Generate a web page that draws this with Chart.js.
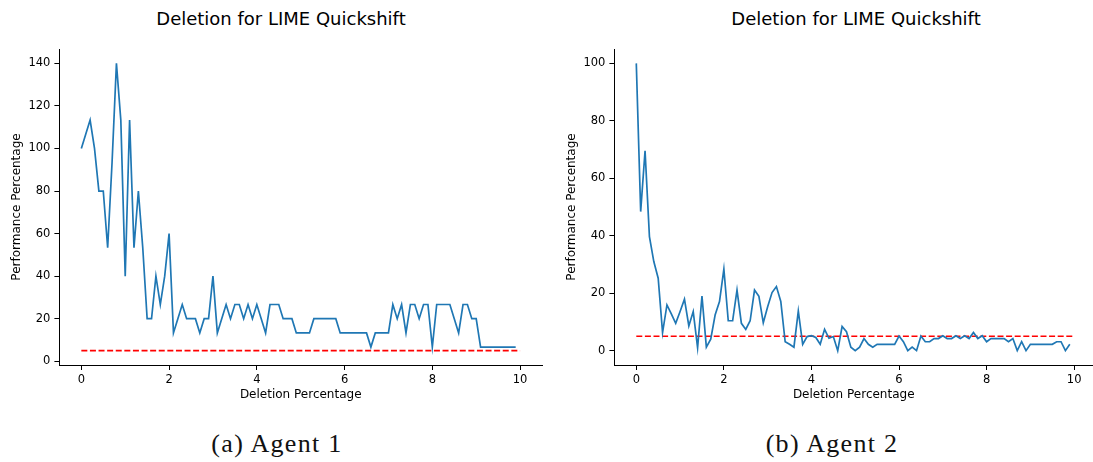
<!DOCTYPE html>
<html>
<head>
<meta charset="utf-8">
<script src="https://cdn.jsdelivr.net/npm/chart.js@4.4.1/dist/chart.umd.min.js"></script>
<style>
  html, body { margin: 0; padding: 0; background: #fff; }
  body { width: 1093px; height: 462px; position: relative; overflow: hidden; font-family: "DejaVu Sans", sans-serif; }
  .wrap { position: absolute; top: 0; }
  .title { position: absolute; top: 8px; transform: translateX(-50%); font-family: "DejaVu Sans", sans-serif; font-size: 18px; color: #000; white-space: nowrap; line-height: 22px; }
  .caption { position: absolute; top: 428px; transform: translateX(-50%); font-family: "Liberation Serif", "DejaVu Serif", serif; font-size: 26px; letter-spacing: 1.3px; color: #111; white-space: nowrap; line-height: 32px; }
</style>
</head>
<body>
<div class="title" style="left:281px">Deletion for LIME Quickshift</div>
<div class="title" style="left:856px">Deletion for LIME Quickshift</div>
<div class="wrap" style="left:0px"><canvas id="c1" width="560" height="420"></canvas></div>
<div class="wrap" style="left:555px"><canvas id="c2" width="538" height="420"></canvas></div>
<div class="caption" style="left:277px">(a) Agent 1</div>
<div class="caption" style="left:832px">(b) Agent 2</div>
<script>
// ---- data ----
const deletionPct = [0,0.1,0.2,0.3,0.4,0.5,0.6,0.7,0.8,0.9,1,1.1,1.2,1.3,1.4,1.5,1.6,1.7,1.8,1.9,
  2,2.1,2.2,2.3,2.4,2.5,2.6,2.7,2.8,2.9,3,3.1,3.2,3.3,3.4,3.5,3.6,3.7,3.8,3.9,
  4,4.1,4.2,4.3,4.4,4.5,4.6,4.7,4.8,4.9,5,5.1,5.2,5.3,5.4,5.5,5.6,5.7,5.8,5.9,
  6,6.1,6.2,6.3,6.4,6.5,6.6,6.7,6.8,6.9,7,7.1,7.2,7.3,7.4,7.5,7.6,7.7,7.8,7.9,
  8,8.1,8.2,8.3,8.4,8.5,8.6,8.7,8.8,8.9,9,9.1,9.2,9.3,9.4,9.5,9.6,9.7,9.8,9.9];

const agent1Perf = [100,106.67,113.33,100,80,80,53.33,93.33,140,113.33,
  40,113.33,53.33,80,53.33,20,20,40,26.67,40,
  60,13.33,20,26.67,20,20,20,13.33,20,20,
  40,13.33,20,26.67,20,26.67,26.67,20,26.67,20,
  26.67,20,13.33,26.67,26.67,26.67,20,20,20,13.33,
  13.33,13.33,13.33,20,20,20,20,20,20,13.33,
  13.33,13.33,13.33,13.33,13.33,13.33,6.67,13.33,13.33,13.33,
  13.33,26.67,20,26.67,13.33,26.67,26.67,20,26.67,26.67,
  6.67,26.67,26.67,26.67,26.67,20,13.33,26.67,26.67,20,
  20,6.67,6.67,6.67,6.67,6.67,6.67,6.67,6.67,6.67];

const agent2Perf = [100,48.4,69.6,39.7,31.0,25.2,6.3,15.9,12.8,9.5,
  13.6,17.9,8.6,13.6,1.0,19.0,1.2,4.0,12.4,17.1,
  28.4,10.4,10.4,21.1,9.5,7.4,10.4,21.1,18.9,9.7,
  15.3,20.2,22.3,17.1,3.1,2.2,1.2,13.8,2.2,4.9,
  5.2,4.6,2.2,7.4,4.3,4.9,0,8.4,6.6,1.2,
  0,1.2,4.2,2.2,1.2,2.2,2.2,2.2,2.2,2.2,
  5.1,3.1,0,1.2,0,5.1,3.1,3.1,4.2,4.2,
  5.2,4.2,4.2,5.2,4.2,5.2,4.2,6.3,4.2,5.2,
  3.1,4.2,4.2,4.2,4.2,3.1,4.2,0,3.1,0,
  2.2,2.2,2.2,2.2,2.2,2.2,3.1,3.1,0,2.2];

const thresholdX = [0, 10];
const thresholdY = 5;

const xTicks = [0, 2, 4, 6, 8, 10];
const yTicks1 = [0, 20, 40, 60, 80, 100, 120, 140];
const yTicks2 = [0, 20, 40, 60, 80, 100];

const chartTitle = 'Deletion for LIME Quickshift';
const xLabel = 'Deletion Percentage';
const yLabel = 'Performance Percentage';

// ---- helpers ----
function pts(xs, ys) { return xs.map((x, i) => ({ x: x, y: ys[i] })); }
function flat(xs, v) { return xs.map(x => ({ x: x, y: v })); }

const tickFont = { family: 'DejaVu Sans', size: 11.5 };
const labelFont = { family: 'DejaVu Sans', size: 12 };

function makeChart(id, perf, yTicks, geom) {
  const ctx = document.getElementById(id);
  return new Chart(ctx, {
    type: 'line',
    data: {
      datasets: [
        {
          data: pts(deletionPct, perf),
          borderColor: '#1f77b4',
          borderWidth: 1.7,
          pointRadius: 0,
          tension: 0,
          fill: false
        },
        {
          data: flat(thresholdX, thresholdY),
          borderColor: '#ff0000',
          borderWidth: 1.7,
          borderDash: [6, 2.6],
          pointRadius: 0,
          fill: false
        }
      ]
    },
    options: {
      responsive: false,
      animation: false,
      devicePixelRatio: 1,
      layout: { padding: { left: 0, top: 49, right: geom.padRight, bottom: 15 } },
      plugins: { legend: { display: false }, tooltip: { enabled: false }, title: { display: false } },
      scales: {
        x: {
          type: 'linear',
          min: geom.xMin,
          max: geom.xMax,
          afterBuildTicks: s => { s.ticks = xTicks.map(v => ({ value: v })); },
          afterFit: s => { s.height = 40; },
          ticks: { font: tickFont, color: '#000', padding: 3, maxRotation: 0, autoSkip: false },
          grid: { drawOnChartArea: false, drawTicks: true, tickLength: 5, color: '#000', lineWidth: 1 },
          border: { display: true, color: '#000', width: 1 },
          title: { display: true, text: xLabel, font: labelFont, color: '#000', padding: { top: 0, bottom: 3 } }
        },
        y: {
          type: 'linear',
          min: geom.yMin,
          max: geom.yMax,
          afterBuildTicks: s => { s.ticks = yTicks.map(v => ({ value: v })); },
          afterFit: s => { s.width = geom.yWidth; },
          ticks: { font: tickFont, color: '#000', padding: 4, autoSkip: false },
          grid: { drawOnChartArea: false, drawTicks: true, tickLength: 5, color: '#000', lineWidth: 1 },
          border: { display: true, color: '#000', width: 1 },
          title: { display: true, text: yLabel, font: labelFont, color: '#000', padding: { top: 10, bottom: 0 } }
        }
      }
    }
  });
}

makeChart('c1', agent1Perf, yTicks1, { xMin: -0.5, xMax: 10.5, yMin: -1.75, yMax: 146.75, yWidth: 59.4, padRight: 18 });
makeChart('c2', agent2Perf, yTicks2, { xMin: -0.5, xMax: 10.43, yMin: -5, yMax: 105, yWidth: 59.4, padRight: 0 });
</script>
</body>
</html>
